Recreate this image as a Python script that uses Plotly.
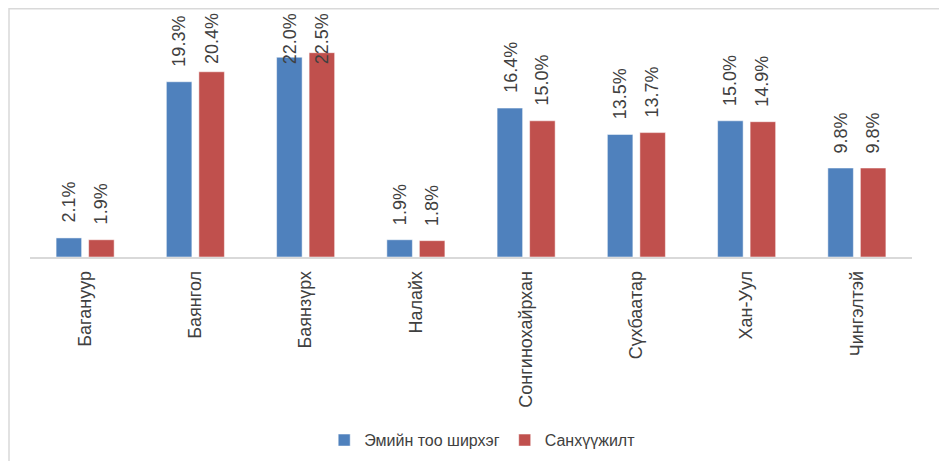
import plotly.graph_objects as go

# district names and shares (%)
districts = ["Багануур", "Баянгол", "Баянзүрх", "Налайх", "Сонгинохайрхан",
             "Сүхбаатар", "Хан-Уул", "Чингэлтэй"]
pills = [2.1, 19.3, 22.0, 1.9, 16.4, 13.5, 15.0, 9.8]
funding = [1.9, 20.4, 22.5, 1.8, 15.0, 13.7, 14.9, 9.8]

series = [
    ("Эмийн тоо ширхэг", pills, "#4F81BD", -16),
    ("Санхүүжилт", funding, "#C0504D", 16),
]

FONT = "Arial, Liberation Sans, sans-serif"
TXT = "#404040"
LABEL_CAP = 19.6  # labels near the top get pushed down like in Excel

fig = go.Figure()
annotations = []
for name, vals, color, shift in series:
    fig.add_trace(go.Bar(
        x=districts, y=vals, name=name,
        marker=dict(color=color, line=dict(color="rgba(255,255,255,0.5)", width=1)),
    ))
    for cat, v in zip(districts, vals):
        annotations.append(dict(
            x=cat, y=min(v, LABEL_CAP), text=f"{v:.1f}%",
            textangle=-90, showarrow=False, xanchor="center", yanchor="bottom",
            xshift=shift, yshift=13, font=dict(family=FONT, size=18, color=TXT),
        ))

# page body has an 8px margin, so the figure is 8px smaller each way
fig.update_layout(
    width=939, height=453,
    margin=dict(l=22, r=35, t=22, b=204, autoexpand=False),
    paper_bgcolor="white", plot_bgcolor="white",
    barmode="group", bargap=0.41, bargroupgap=0.215,
    font=dict(family=FONT, size=18, color=TXT),
    showlegend=True,
    legend=dict(orientation="h", xref="container", yref="container",
                x=0.505, xanchor="center", y=0.046, yanchor="middle",
                font=dict(size=16, color=TXT), itemwidth=30, traceorder="normal"),
    annotations=annotations,
    shapes=[dict(type="rect", xref="paper", yref="paper",
                 x0=-0.0238, x1=1.2, y0=-1.2, y1=1.094,
                 line=dict(color="#D9D9D9", width=1.5))],
)
fig.update_xaxes(tickangle=-90, showline=True, linecolor="#D9D9D9", linewidth=1.5,
                 ticks="", ticklabelstandoff=5, automargin=False,
                 tickfont=dict(size=18, color=TXT))
fig.update_yaxes(range=[0, 25], visible=False, showgrid=False)

fig.write_html("out.html")
